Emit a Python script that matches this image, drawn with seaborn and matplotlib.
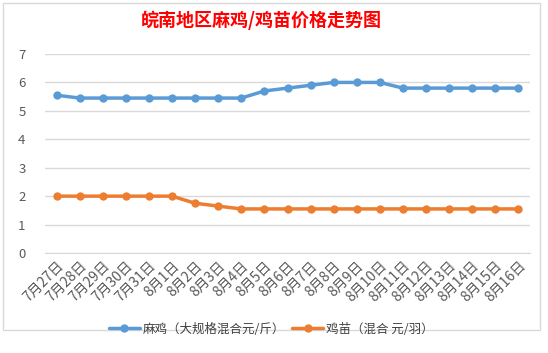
import matplotlib
matplotlib.use("Agg")
import matplotlib.pyplot as plt
import pandas as pd
import seaborn as sns
from matplotlib.patches import Rectangle

dates = ["7月27日", "7月28日", "7月29日", "7月30日", "7月31日", "8月1日", "8月2日",
         "8月3日", "8月4日", "8月5日", "8月6日", "8月7日", "8月8日", "8月9日",
         "8月10日", "8月11日", "8月12日", "8月13日", "8月14日", "8月15日", "8月16日"]
mj = [5.55, 5.45, 5.45, 5.45, 5.45, 5.45, 5.45, 5.45, 5.45, 5.7, 5.8,
      5.9, 6.0, 6.0, 6.0, 5.8, 5.8, 5.8, 5.8, 5.8, 5.8]
jm = [2.0, 2.0, 2.0, 2.0, 2.0, 2.0, 1.75, 1.65, 1.55, 1.55, 1.55,
      1.55, 1.55, 1.55, 1.55, 1.55, 1.55, 1.55, 1.55, 1.55, 1.55]
names = ["麻鸡（大规格混合元/斤）", "鸡苗（混合 元/羽）"]
colors = ["#5b9bd5", "#ed7d31"]

df = pd.concat([
    pd.DataFrame({"x": range(len(dates)), "price": mj, "series": names[0]}),
    pd.DataFrame({"x": range(len(dates)), "price": jm, "series": names[1]}),
])

sns.set_style("white")
plt.rcParams['font.family'] = ['Noto Sans CJK SC', 'DejaVu Sans']

fig = plt.figure(figsize=(5.48, 3.53), dpi=100)
ax = fig.add_axes([45 / 548, 1 - 253 / 353, 485 / 548, 199 / 353])

sns.lineplot(data=df, x="x", y="price", hue="series", palette=colors,
             marker="o", markersize=6, markeredgewidth=0, linewidth=2.5,
             ax=ax, legend=False)

ax.set_xlim(-0.5, len(dates) - 0.5)
ax.set_ylim(0, 7)
ax.set_yticks(range(8))
ax.grid(axis="y", color="#d9d9d9", linewidth=1)
ax.set_axisbelow(True)
for s in ["top", "right", "left"]:
    ax.spines[s].set_visible(False)
ax.spines["bottom"].set_color("#d9d9d9")
ax.set_xlabel("")
ax.set_ylabel("")

ax.set_xticks(range(len(dates)))
ax.set_xticklabels(dates, rotation=45, ha="right", rotation_mode="anchor",
                   fontsize=10, color="#595959")
ax.tick_params(axis="x", length=0, pad=4)
ax.set_xticks([i - 0.5 for i in range(len(dates) + 1)], minor=True)
ax.tick_params(axis="x", which="minor", length=5, color="#d9d9d9")
ax.tick_params(axis="y", length=0, labelsize=9.5, labelcolor="#595959", pad=14)

fig.text(261 / 548, 1 - 20 / 353, "皖南地区麻鸡/鸡苗价格走势图", color="red",
         fontsize=13, fontweight="bold", ha="center", va="center")

handles = [plt.Line2D([], [], color=c, marker="o", markersize=6,
                      markeredgewidth=0, linewidth=2.5) for c in colors]
fig.legend(handles, names, loc="center", bbox_to_anchor=(271 / 548, 1 - 329 / 353),
           ncol=2, frameon=False, fontsize=9, handlelength=2.5,
           columnspacing=0.6, handletextpad=0.2, labelcolor="#404040")

fig.patches.append(Rectangle((3 / 548, 1 - 330 / 353), 537 / 548, 327 / 353,
                             transform=fig.transFigure, fill=False,
                             edgecolor="#d9d9d9", linewidth=1))

fig.savefig("out.png", dpi=100)
